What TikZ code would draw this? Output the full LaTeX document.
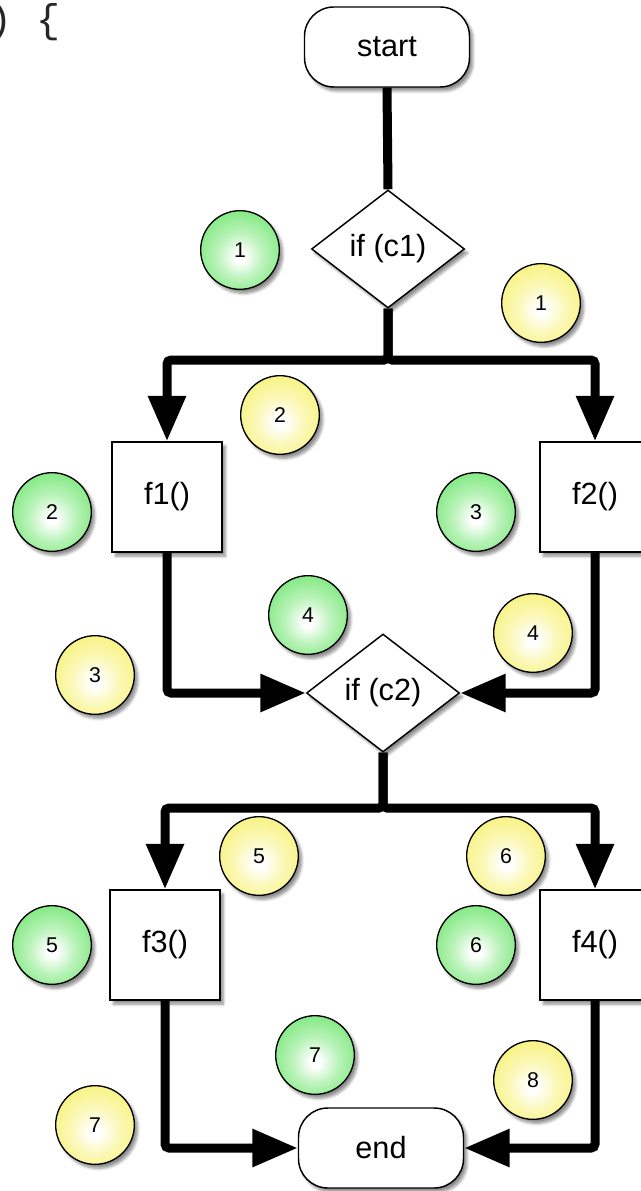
\documentclass[tikz,border=0pt]{standalone}
\usepackage{fontspec}
\setmainfont{Liberation Sans}
\newfontfamily\codefont{Liberation Mono}
\usetikzlibrary{shapes.geometric,arrows.meta,shadows.blur}
\definecolor{gcol}{RGB}{100,228,100}
\definecolor{ycol}{RGB}{246,240,100}
\pgfdeclareradialshading{gball}{\pgfpoint{0bp}{-5bp}}{color(0bp)=(white); color(3bp)=(white); color(15bp)=(gcol!45!white); color(30bp)=(gcol!85!white); color(45bp)=(gcol); color(60bp)=(gcol)}
\pgfdeclareradialshading{yball}{\pgfpoint{0bp}{-5bp}}{color(0bp)=(white); color(3bp)=(white); color(15bp)=(ycol!45!white); color(30bp)=(ycol!85!white); color(45bp)=(ycol); color(60bp)=(ycol)}
\begin{document}
\begin{tikzpicture}[x=0.75pt,y=-0.75pt,
  shd/.style={blur shadow={shadow xshift=2.5pt,shadow yshift=-3pt,shadow blur steps=6,shadow opacity=45}},
  term/.style={draw,line width=1.1pt,fill=white,rounded corners=22pt,minimum width=123.75pt,minimum height=60pt,inner sep=0pt,font=\fontsize{23}{26}\selectfont,shd},
  cond/.style={draw,diamond,line width=1.1pt,fill=white,minimum width=114.75pt,minimum height=88.5pt,inner sep=0pt,font=\fontsize{23}{26}\selectfont,shd},
  func/.style={draw,rectangle,line width=1.1pt,fill=white,minimum width=82.5pt,minimum height=82.5pt,inner sep=0pt,font=\fontsize{23}{26}\selectfont,shd},
  ball/.style={draw,circle,line width=1pt,minimum size=59pt,inner sep=0pt,font=\fontsize{16}{18}\selectfont,shd},
  gb/.style={ball,shading=gball},
  yb/.style={ball,shading=yball},
  conn/.style={line width=6.75pt,rounded corners=3pt},
  arr/.style={-{Triangle[length=34pt,width=27pt]}}
]
\useasboundingbox (0,0) rectangle (641,1191);
\node[inner sep=0pt,font=\codefont\fontsize{30}{32}\selectfont,text=black!85] (code) at (25,22) {) \{};

\node[term] (start) at (387,47) {start};
\node[cond] (c1) at (388,249) {if (c1)};
\node[func] (f1) at (167,497) {f1()};
\node[func] (f2) at (595,497) {f2()};
\node[cond] (c2) at (383,693) {if (c2)};
\node[func] (f3) at (165,945) {f3()};
\node[func] (f4) at (595,945) {f4()};
\node[term] (end) at (381,1148) {end};

\coordinate (j1) at (388,360);
\coordinate (j2) at (383,808);

\draw[conn] (start.south) -- (c1.north);
\draw[conn,arr] (c1.south) -- (j1) -| (f1.north);
\draw[conn,arr] (c1.south) -- (j1) -| (f2.north);
\draw[conn,arr] (f1.south) |- (c2.west);
\draw[conn,arr] (f2.south) |- (c2.east);
\draw[conn,arr] (c2.south) -- (j2) -| (f3.north);
\draw[conn,arr] (c2.south) -- (j2) -| (f4.north);
\draw[conn,arr] (f3.south) |- (end.west);
\draw[conn,arr] (f4.south) |- (end.east);

\node[gb] (g1) at (240,250) {1};
\node[gb] (g2) at (52,512) {2};
\node[gb] (g3) at (476,512) {3};
\node[gb] (g4) at (308,615) {4};
\node[gb] (g5) at (52,945) {5};
\node[gb] (g6) at (476,945) {6};
\node[gb] (g7) at (315,1055) {7};

\node[yb] (y1) at (541,303) {1};
\node[yb] (y2) at (280,415) {2};
\node[yb] (y3) at (95,675) {3};
\node[yb] (y4) at (533,633) {4};
\node[yb] (y5) at (259,856) {5};
\node[yb] (y6) at (506,856) {6};
\node[yb] (y7) at (95,1125) {7};
\node[yb] (y8) at (533,1080) {8};
\end{tikzpicture}
\end{document}
